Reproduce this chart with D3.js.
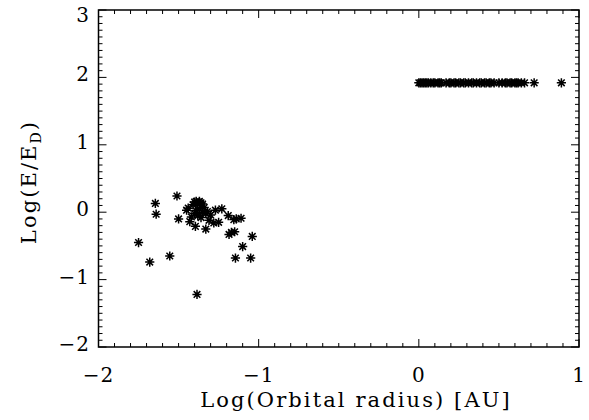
<!DOCTYPE html>
<html>
<head>
<meta charset="utf-8">
<script src="https://cdn.jsdelivr.net/npm/d3@7"></script>
<style>
  body { margin: 0; background: #fff; }
  svg text { font-family: "DejaVu Serif", serif; fill: #000; }
</style>
</head>
<body>
<script>
// inner planets: orbital radius vs energy ratio
var leftX = [-1.75, -1.68, -1.645, -1.64, -1.555, -1.51, -1.50, -1.385,
             -1.44, -1.45, -1.43, -1.41, -1.40, -1.39, -1.38, -1.37, -1.36, -1.35,
             -1.40, -1.39, -1.38, -1.37, -1.36, -1.35, -1.34, -1.42, -1.395, -1.33,
             -1.31, -1.30, -1.28, -1.27, -1.25, -1.23, -1.19, -1.185, -1.17, -1.15,
             -1.155, -1.14, -1.11, -1.10, -1.145, -1.05, -1.04, -1.33, -1.32]
var leftY = [-0.45, -0.74, 0.13, -0.03, -0.65, 0.24, -0.10, -1.22,
             0.06, 0.03, -0.14, 0.11, 0.15, 0.16, 0.13, 0.16, 0.14, 0.12,
             -0.02, 0.02, -0.05, 0.05, -0.08, 0.00, 0.07, -0.07, -0.21, -0.25,
             -0.12, -0.04, -0.16, 0.03, -0.15, 0.05, -0.05, -0.33, -0.30, -0.29,
             -0.11, -0.10, -0.09, -0.51, -0.68, -0.68, -0.36, -0.02, 0.01]

// outer planets: all at the same level
var rightX = [0.00, 0.01, 0.02, 0.03, 0.04, 0.05, 0.06, 0.075, 0.09, 0.10,
              0.12, 0.13, 0.14, 0.17, 0.19, 0.20, 0.22, 0.23, 0.25, 0.26,
              0.28, 0.29, 0.31, 0.33, 0.34, 0.36, 0.38, 0.39, 0.41, 0.42,
              0.44, 0.45, 0.47, 0.50, 0.52, 0.54, 0.55, 0.57, 0.58, 0.60,
              0.61, 0.62, 0.64, 0.66, 0.72, 0.89]
var rightY = [1.92, 1.92, 1.92, 1.92, 1.92, 1.92, 1.92, 1.92, 1.92, 1.92,
              1.92, 1.92, 1.92, 1.92, 1.92, 1.92, 1.92, 1.92, 1.92, 1.92,
              1.92, 1.92, 1.92, 1.92, 1.92, 1.92, 1.92, 1.92, 1.92, 1.92,
              1.92, 1.92, 1.92, 1.92, 1.92, 1.92, 1.92, 1.92, 1.92, 1.92,
              1.92, 1.92, 1.92, 1.92, 1.92, 1.92]

var xTicks = [-2, -1, 0, 1]
var yTicks = [-2, -1, 0, 1, 2, 3]

var width = 589, height = 420
var pLeft = 98.5, pRight = 579, pTop = 10, pBottom = 347

var svg = d3.select("body").append("svg")
    .attr("width", width)
    .attr("height", height)

var x = d3.scaleLinear().domain([-2, 1]).range([pLeft, pRight])
var y = d3.scaleLinear().domain([-2, 3]).range([pBottom, pTop])

var fmt = function(d) { return d < 0 ? "\u2212" + Math.abs(d) : String(d) }

// minor ticks every 0.1
var xMinor = d3.range(-20, 11).map(function(i) { return i / 10 })
var yMinor = d3.range(-20, 31).map(function(i) { return i / 10 })
var isMajor = function(v) { return Math.abs(v - Math.round(v)) < 1e-6 }

var ticks = svg.append("g")
    .attr("stroke", "#000")
    .attr("stroke-width", 1)

xMinor.forEach(function(v) {
    var len = isMajor(v) ? 8 : 4
    ticks.append("line")
        .attr("x1", x(v)).attr("x2", x(v))
        .attr("y1", pBottom).attr("y2", pBottom - len)
    ticks.append("line")
        .attr("x1", x(v)).attr("x2", x(v))
        .attr("y1", pTop).attr("y2", pTop + len)
})
yMinor.forEach(function(v) {
    var len = isMajor(v) ? 8 : 4
    ticks.append("line")
        .attr("x1", pLeft).attr("x2", pLeft + len)
        .attr("y1", y(v)).attr("y2", y(v))
    ticks.append("line")
        .attr("x1", pRight).attr("x2", pRight - len)
        .attr("y1", y(v)).attr("y2", y(v))
})

// frame
svg.append("rect")
    .attr("x", pLeft).attr("y", pTop)
    .attr("width", pRight - pLeft).attr("height", pBottom - pTop)
    .attr("fill", "none")
    .attr("stroke", "#000")
    .attr("stroke-width", 1.5)

// tick labels
svg.selectAll(".xlab")
    .data(xTicks)
    .enter().append("text")
    .attr("class", "xlab")
    .attr("x", function(d) { return x(d) })
    .attr("y", 382)
    .attr("text-anchor", "middle")
    .style("font-size", "20px")
    .style("letter-spacing", "1px")
    .text(fmt)

// top label is pushed down so it stays inside the page
svg.selectAll(".ylab")
    .data(yTicks)
    .enter().append("text")
    .attr("class", "ylab")
    .attr("x", 90)
    .attr("y", function(d) { return Math.max(y(d) + 4, 22) })
    .attr("text-anchor", "end")
    .style("font-size", "20px")
    .style("letter-spacing", "1px")
    .text(fmt)

// axis titles
svg.append("text")
    .attr("x", 356)
    .attr("y", 407)
    .attr("text-anchor", "middle")
    .style("font-size", "21px")
    .style("letter-spacing", "2.1px")
    .text("Log(Orbital radius) [AU]")

var yt = svg.append("text")
    .attr("transform", "translate(36,182) rotate(-90)")
    .attr("text-anchor", "middle")
    .style("font-size", "21px")
    .style("letter-spacing", "2.1px")
yt.append("tspan").text("Log(E/E")
yt.append("tspan").attr("dy", 5).style("font-size", "14px").text("D")
yt.append("tspan").attr("dy", -5).text(")")

// asterisk symbols
function star(r) {
    var d = r * 0.72
    return "M" + (-r) + ",0L" + r + ",0" +
           "M0," + (-r) + "L0," + r +
           "M" + (-d) + "," + (-d) + "L" + d + "," + d +
           "M" + (-d) + "," + d + "L" + d + "," + (-d)
}

var pts = []
for (var i = 0; i < leftX.length; i++) pts.push([leftX[i], leftY[i]])
for (var j = 0; j < rightX.length; j++) pts.push([rightX[j], rightY[j]])

svg.append("g").selectAll("path")
    .data(pts)
    .enter().append("path")
    .attr("transform", function(d) { return "translate(" + x(d[0]) + "," + y(d[1]) + ")" })
    .attr("d", star(4.6))
    .attr("fill", "none")
    .attr("stroke", "#000")
    .attr("stroke-width", 1.5)
</script>
</body>
</html>
